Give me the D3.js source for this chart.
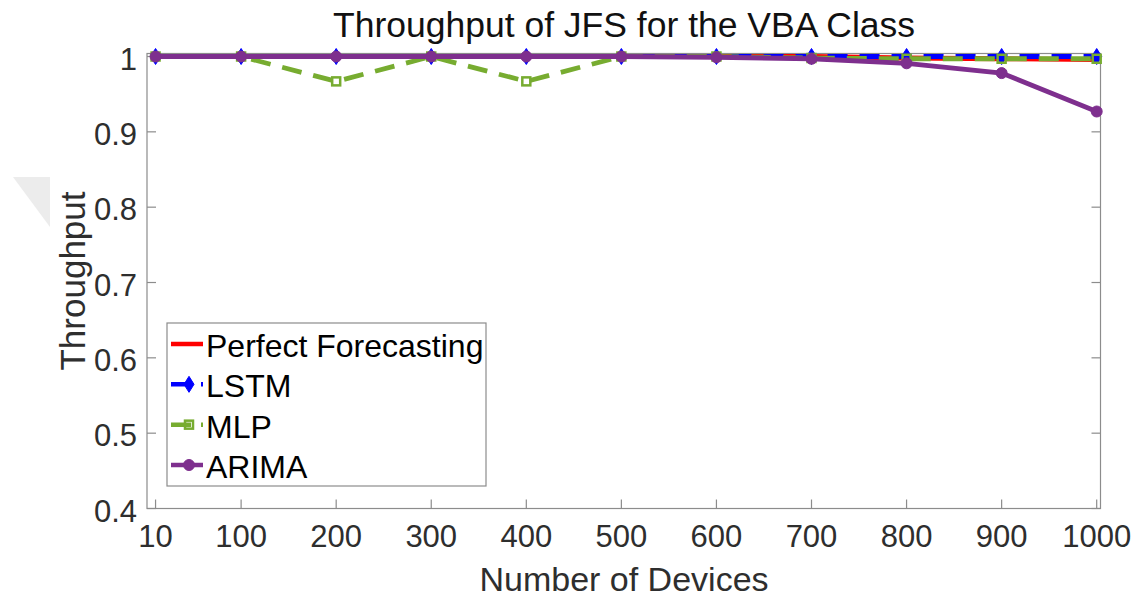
<!DOCTYPE html>
<html>
<head>
<meta charset="utf-8">
<script src="https://cdn.jsdelivr.net/npm/d3@7"></script>
<style>
  body { margin: 0; background: #fff; overflow: hidden; }
  text { font-family: "Liberation Sans", Arial, sans-serif; }
</style>
</head>
<body>
<svg id="chart" width="1138" height="597"></svg>
<script>
// Data
var devices = [10, 100, 200, 300, 400, 500, 600, 700, 800, 900, 1000];
var perfect = [1, 1, 1, 1, 1, 1, 1, 1, 0.998, 0.997, 0.996];
var lstm    = [1, 1, 1, 1, 1, 1, 1, 1, 1, 1, 1];
var mlp     = [1, 1, 0.967, 1, 0.967, 1, 1, 0.998, 0.997, 0.997, 0.997];
var arima   = [1, 1, 1, 1, 1, 1, 0.999, 0.997, 0.991, 0.978, 0.927];
var yTicks  = [0.4, 0.5, 0.6, 0.7, 0.8, 0.9, 1];

var series = [
  { name: "Perfect Forecasting", values: perfect, color: "#ff0000", dash: null, marker: null },
  { name: "LSTM", values: lstm, color: "#0000ff", dash: "20,12", marker: "diamond" },
  { name: "MLP", values: mlp, color: "#77ac30", dash: "20,12", marker: "square" },
  { name: "ARIMA", values: arima, color: "#7e2f8e", dash: null, marker: "circle" }
];

var svg = d3.select("#chart");
var plotLeft = 147, plotRight = 1100.5, plotTop = 53.5, plotBottom = 508.5;

var x = d3.scaleLinear().domain([1, 1004]).range([plotLeft, plotRight]);
var y = d3.scaleLinear().domain([0.4, 1.004]).range([plotBottom, plotTop]);

// faint corner artifact on the left
svg.append("path")
  .attr("d", "M13,177L50,177L50,227Z")
  .attr("fill", "#ececec");

// axes box
var axisColor = "#8c8c8c";
svg.append("rect")
  .attr("x", plotLeft).attr("y", plotTop)
  .attr("width", plotRight - plotLeft).attr("height", plotBottom - plotTop)
  .attr("fill", "none").attr("stroke", axisColor).attr("stroke-width", 1.2);

// x ticks (inward, bottom)
svg.append("g").selectAll("line").data(devices).join("line")
  .attr("x1", d => x(d)).attr("x2", d => x(d))
  .attr("y1", plotBottom).attr("y2", plotBottom - 9)
  .attr("stroke", axisColor).attr("stroke-width", 1.2);

svg.append("g").selectAll("text").data(devices).join("text")
  .attr("x", d => x(d)).attr("y", 547)
  .attr("text-anchor", "middle")
  .attr("font-size", 31).attr("fill", "#2e2e2e")
  .text(d => d);

// y ticks (inward, left and right)
svg.append("g").selectAll("line").data(yTicks).join("line")
  .attr("x1", plotLeft).attr("x2", plotLeft + 9)
  .attr("y1", d => y(d)).attr("y2", d => y(d))
  .attr("stroke", axisColor).attr("stroke-width", 1.2);
svg.append("g").selectAll("line").data(yTicks).join("line")
  .attr("x1", plotRight).attr("x2", plotRight - 9)
  .attr("y1", d => y(d)).attr("y2", d => y(d))
  .attr("stroke", axisColor).attr("stroke-width", 1.2);

svg.append("g").selectAll("text").data(yTicks).join("text")
  .attr("x", 137).attr("y", d => y(d) + 13)
  .attr("text-anchor", "end")
  .attr("font-size", 31).attr("fill", "#2e2e2e")
  .text(d => d);

// titles
svg.append("text")
  .attr("x", 624).attr("y", 37)
  .attr("text-anchor", "middle")
  .attr("font-size", 35.5).attr("fill", "#111")
  .text("Throughput of JFS for the VBA Class");

svg.append("text")
  .attr("x", 624).attr("y", 591)
  .attr("text-anchor", "middle")
  .attr("font-size", 34).attr("fill", "#2e2e2e")
  .text("Number of Devices");

svg.append("text")
  .attr("transform", "translate(85,281) rotate(-90)")
  .attr("text-anchor", "middle")
  .attr("font-size", 35).attr("fill", "#2e2e2e")
  .text("Throughput");

// marker drawing
function drawMarker(g, type, color) {
  if (type === "diamond") {
    g.append("path").attr("d", "M0,-8L5,0L0,8L-5,0Z")
      .attr("fill", color).attr("stroke", color).attr("stroke-width", 1);
  } else if (type === "square") {
    g.append("rect").attr("x", -4).attr("y", -4).attr("width", 8).attr("height", 8)
      .attr("fill", "none").attr("stroke", color).attr("stroke-width", 2.5);
  } else if (type === "circle") {
    g.append("circle").attr("r", 5.5)
      .attr("fill", color).attr("stroke", color).attr("stroke-width", 1);
  }
}

var line = d3.line()
  .x((d, i) => x(devices[i]))
  .y(d => y(d));

var plot = svg.append("g");
series.forEach(s => {
  plot.append("path")
    .datum(s.values)
    .attr("d", line)
    .attr("fill", "none")
    .attr("stroke", s.color)
    .attr("stroke-width", 4.8)
    .attr("stroke-dasharray", s.dash);
  if (s.marker) {
    s.values.forEach((v, i) => {
      var g = plot.append("g").attr("transform", "translate(" + x(devices[i]) + "," + y(v) + ")");
      drawMarker(g, s.marker, s.color);
    });
  }
});

// legend
var legend = svg.append("g");
legend.append("rect")
  .attr("x", 167).attr("y", 323).attr("width", 319).attr("height", 163)
  .attr("fill", "#fff").attr("stroke", "#8c8c8c").attr("stroke-width", 1.2);

var legendY = d3.scalePoint().domain(series.map(s => s.name)).range([344, 465]);
series.forEach(s => {
  var cy = legendY(s.name);
  legend.append("line")
    .attr("x1", 171).attr("x2", 203).attr("y1", cy).attr("y2", cy)
    .attr("stroke", s.color).attr("stroke-width", 4.5)
    .attr("stroke-dasharray", s.dash ? "20,10,2" : null);
  if (s.marker) {
    var g = legend.append("g").attr("transform", "translate(189," + cy + ")");
    drawMarker(g, s.marker, s.color);
  }
  legend.append("text")
    .attr("x", 206).attr("y", cy + 13)
    .attr("font-size", 32).attr("fill", "#000")
    .text(s.name);
});
</script>
</body>
</html>
